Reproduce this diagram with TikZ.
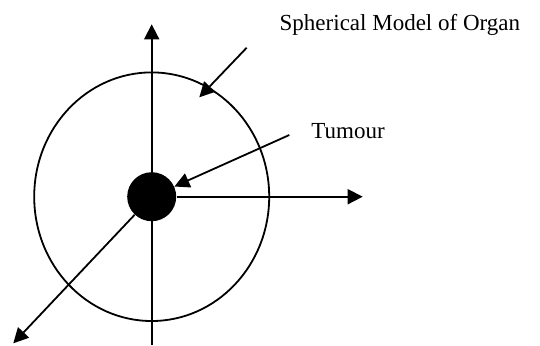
\documentclass[tikz,border=0pt]{standalone}
\usepackage{fontspec}
\setmainfont{Liberation Serif}
\usetikzlibrary{arrows.meta,shapes.geometric}
\begin{document}
\begin{tikzpicture}[x=0.5pt,y=-0.5pt,
  line/.style={line width=0.9pt},
  arr/.style={line, -{Triangle[length=7.5pt,width=7.5pt]}},
  lbl/.style={inner sep=0pt, anchor=base west, font=\fontsize{11.5}{14}\selectfont}]
\useasboundingbox (0,0) rectangle (540,345);
\node[line, draw, ellipse, minimum width=117.5pt, minimum height=124.3pt, inner sep=0pt] (organ) at (151.7,196.7) {};
\node[circle, fill=black, minimum size=24.5pt, inner sep=0pt] (tumour) at (151.7,196.7) {};
\coordinate (vbot) at (151.7,345);
\coordinate (vtop) at (151.7,24.3);
\coordinate (htip) at (362.7,196.7);
\coordinate (dtip) at (13.3,343.3);
\coordinate (oa) at (246.7,47.7);
\coordinate (ob) at (199.3,97.3);
\coordinate (ta) at (289.3,135);
\draw[arr] (vbot) -- (vtop);
\draw[arr] (tumour.east) -- (htip);
\draw[arr] (tumour) -- (dtip);
\draw[arr] (oa) -- (ob);
\draw[arr] (ta) -- (tumour);
\node[lbl] (organlbl) at (279.3,30) {Spherical Model of Organ};
\node[lbl] (tumourlbl) at (311,138) {Tumour};
\end{tikzpicture}
\end{document}
